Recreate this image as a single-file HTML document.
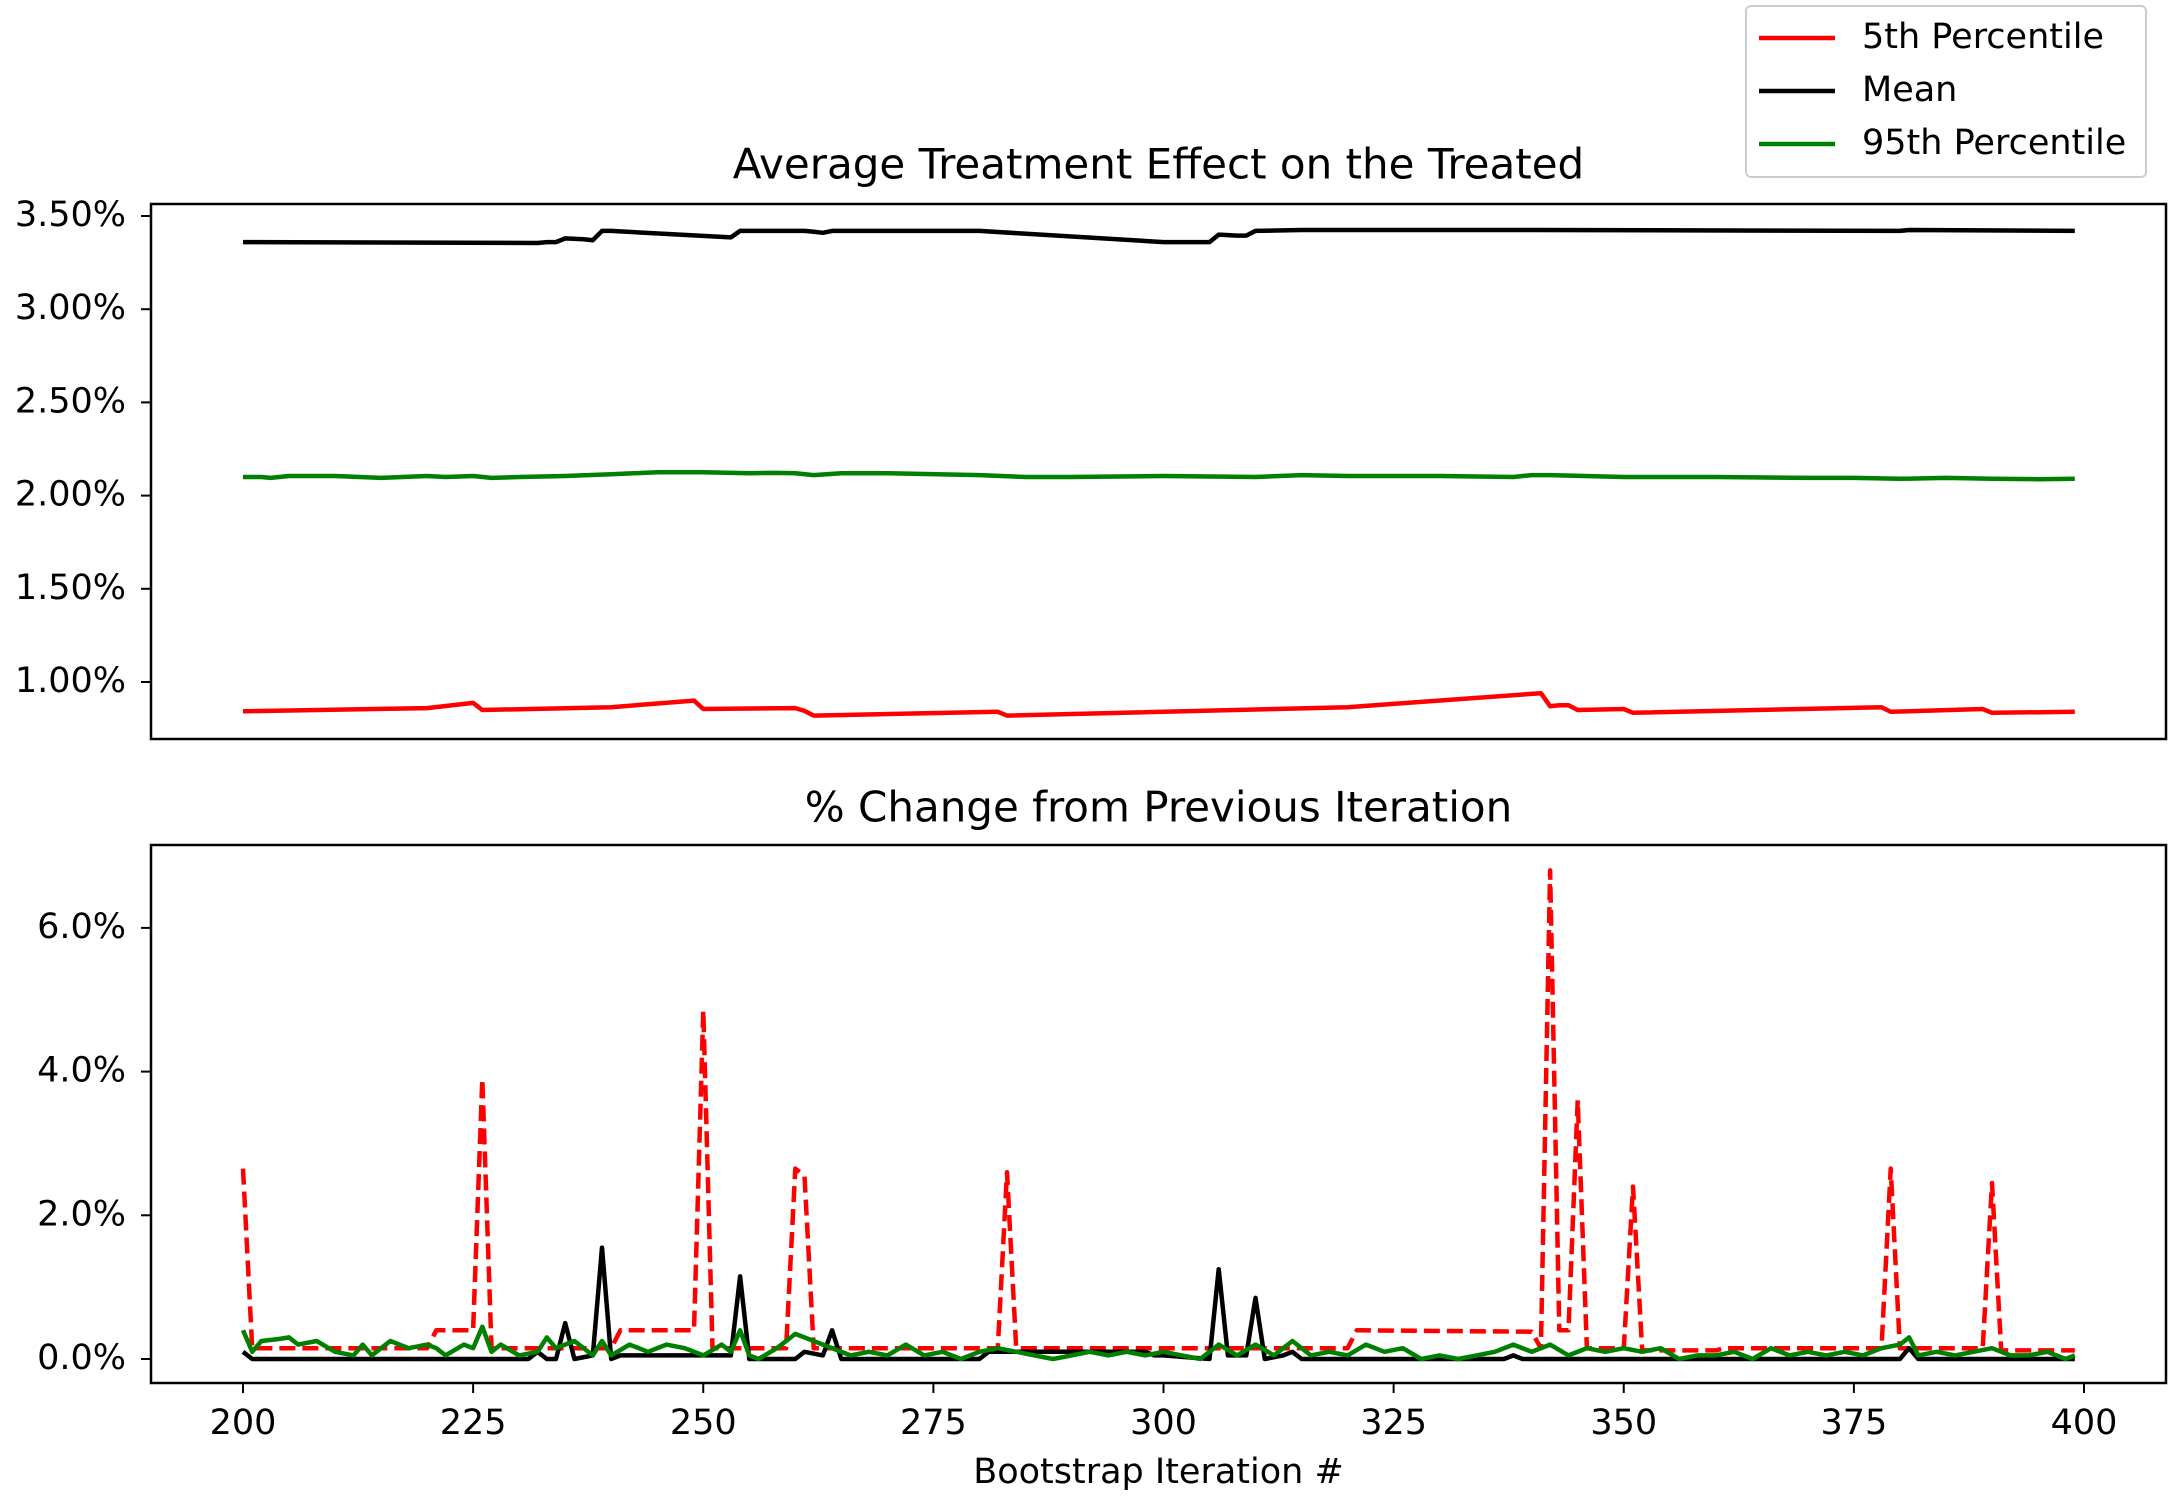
<!DOCTYPE html>
<html><head><meta charset="utf-8"><style>
html,body{margin:0;padding:0;background:#fff;}
svg text{font-family:"DejaVu Sans","Liberation Sans",sans-serif;fill:#000;}
</style></head><body>
<svg id="chart" width="2180" height="1496" viewBox="0 0 2180 1496" xmlns="http://www.w3.org/2000/svg">
<rect x="0" y="0" width="2180" height="1496" fill="#fff"/>
<g id="topPanel"></g>
<g id="botPanel"></g>
<g id="legend"></g>
</svg>
<script>
// ---- top panel data (iteration breakpoints, value in %) ----
const meanX = [200,232,233,234,235,237,238,239,240,253,254,261,262,263,264,280,300,305,306,308,309,310,315,340,380,381,399];
const meanY = [3.36,3.355,3.36,3.36,3.38,3.375,3.37,3.42,3.42,3.385,3.42,3.42,3.415,3.41,3.42,3.42,3.36,3.36,3.40,3.395,3.395,3.42,3.425,3.425,3.42,3.425,3.42];
const p5X = [200,220,225,226,240,249,250,260,261,262,282,283,320,341,342,343,344,345,350,351,378,379,389,390,399];
const p5Y = [0.843,0.86,0.888,0.85,0.865,0.90,0.855,0.86,0.845,0.82,0.84,0.82,0.865,0.94,0.87,0.875,0.875,0.85,0.855,0.835,0.865,0.84,0.855,0.835,0.84];
const p95X = [200,202,203,205,208,210,215,220,222,225,227,230,235,240,245,250,255,258,260,262,265,270,280,285,290,300,310,315,320,330,338,340,342,350,360,370,375,380,385,390,395,399];
const p95Y = [2.10,2.10,2.095,2.105,2.105,2.105,2.095,2.105,2.10,2.105,2.095,2.10,2.105,2.115,2.125,2.125,2.12,2.122,2.12,2.11,2.12,2.12,2.11,2.10,2.10,2.105,2.10,2.11,2.105,2.105,2.10,2.11,2.11,2.10,2.10,2.095,2.095,2.09,2.095,2.09,2.088,2.09];
const topTicks = [1.0,1.5,2.0,2.5,3.0,3.5];
const topTickLabels = ["1.00%","1.50%","2.00%","2.50%","3.00%","3.50%"];
// ---- bottom panel data ----
const c5X = [200,201,220,221,225,226,227,240,241,249,250,251,259,260,261,262,282,283,284,320,321,340,341,342,343,344,345,346,350,351,352,360,361,378,379,380,389,390,391,399];
const c5Y = [2.65,0.15,0.15,0.4,0.4,3.9,0.15,0.15,0.4,0.4,4.85,0.15,0.15,2.65,2.55,0.15,0.15,2.6,0.15,0.15,0.4,0.38,0.15,6.8,0.4,0.4,3.6,0.15,0.15,2.4,0.12,0.12,0.15,0.15,2.65,0.15,0.15,2.45,0.12,0.12];
const cmX = [200,201,231,232,233,234,235,236,238,239,240,241,253,254,255,260,261,263,264,265,280,281,298,299,300,305,306,307,309,310,311,313,314,315,337,338,339,380,381,382,399];
const cmY = [0.1,0.0,0.0,0.1,0.0,0.0,0.5,0.0,0.05,1.55,0.0,0.05,0.05,1.15,0.0,0.0,0.1,0.05,0.4,0.0,0.0,0.1,0.1,0.05,0.05,0.0,1.25,0.05,0.05,0.85,0.0,0.05,0.1,0.0,0.0,0.05,0.0,0.0,0.15,0.0,0.0];
const c95X = [200,201,202,204,205,206,208,210,212,213,214,216,218,220,221,222,224,225,226,227,228,230,232,233,234,236,238,239,240,242,244,246,248,250,252,253,254,255,256,258,260,262,264,266,268,270,272,274,276,278,280,282,284,286,288,290,292,294,296,298,300,302,304,306,308,310,312,314,316,318,320,322,324,326,328,330,332,334,336,338,340,342,344,346,348,350,352,354,356,358,360,362,364,366,368,370,372,374,376,378,380,381,382,384,386,388,390,392,394,396,398,399];
const c95Y = [0.4,0.1,0.25,0.28,0.3,0.2,0.25,0.1,0.05,0.2,0.05,0.25,0.15,0.2,0.15,0.05,0.2,0.15,0.45,0.1,0.2,0.05,0.1,0.3,0.15,0.25,0.05,0.25,0.05,0.2,0.1,0.2,0.15,0.05,0.2,0.1,0.4,0.05,0.0,0.15,0.35,0.25,0.15,0.05,0.1,0.05,0.2,0.05,0.1,0.0,0.1,0.15,0.1,0.05,0.0,0.05,0.1,0.05,0.1,0.05,0.1,0.05,0.0,0.2,0.05,0.2,0.05,0.25,0.05,0.1,0.05,0.2,0.1,0.15,0.0,0.05,0.0,0.05,0.1,0.2,0.1,0.2,0.05,0.15,0.1,0.15,0.1,0.15,0.0,0.05,0.05,0.1,0.0,0.15,0.05,0.1,0.05,0.1,0.05,0.15,0.2,0.3,0.05,0.1,0.05,0.1,0.15,0.05,0.05,0.1,0.0,0.05];
const botTicks = [0,2,4,6];
const botTickLabels = ["0.0%","2.0%","4.0%","6.0%"];
const xTicks = [200,225,250,275,300,325,350,375,400];
const legendLabels = ["5th Percentile","Mean","95th Percentile"];
const legendColors = ["#ff0000","#000000","#008000"];

const NS="http://www.w3.org/2000/svg";
function mk(tag,attrs,parent){const e=document.createElementNS(NS,tag);for(const k in attrs)e.setAttribute(k,attrs[k]);parent.appendChild(e);return e;}
const L=151,R=2166;
const xS=v=>243+(v-200)*(2084-243)/200;
const yTop=v=>216+(3.5-v)*186.4;
const yBot=v=>1359-v*71.85;

function panel(g,t0,b0,title,titleY,yScale,ticks,labels,showX){
  const fr=mk('rect',{x:L,y:t0,width:R-L,height:b0-t0,fill:'none',stroke:'#000','stroke-width':2.5},g);
  
  
  const t=mk('text',{x:(L+R)/2,y:titleY,'font-size':42,'text-anchor':'middle','dominant-baseline':'middle'},g);
  t.textContent=title;
  
  
  ticks.forEach((v,i)=>{
    const y=yScale(v);
    mk('line',{x1:L-10,x2:L,y1:y,y2:y,stroke:'#000','stroke-width':2},g);
    const tx=mk('text',{x:126,y:y,'font-size':35,'text-anchor':'end','dominant-baseline':'middle'},g);
    tx.textContent=labels[i];
    
    
  });
  if(showX){
    xTicks.forEach(v=>{
      const x=xS(v);
      mk('line',{x1:x,x2:x,y1:b0,y2:b0+10,stroke:'#000','stroke-width':2},g);
      const tx=mk('text',{x:x,y:1424,'font-size':35,'text-anchor':'middle','dominant-baseline':'middle'},g);
      tx.textContent=v;
      
      
    });
    const xl=mk('text',{x:(L+R)/2,y:1473,'font-size':35,'text-anchor':'middle','dominant-baseline':'middle'},g);
    xl.textContent='Bootstrap Iteration #';
    
    
  }
}
function series(g,xs,ys,yScale,color,dash,name){
  const pts=xs.map((x,i)=>xS(x).toFixed(1)+','+yScale(ys[i]).toFixed(1)).join(' ');
  const p=mk('polyline',{points:pts,fill:'none',stroke:color,'stroke-width':4.5,'stroke-linejoin':'round'},g);
  if(dash)p.setAttribute('stroke-dasharray','16 7');
  
  
}
const topG=document.getElementById('topPanel'), botG=document.getElementById('botPanel');
panel(topG,204,739,'Average Treatment Effect on the Treated',167,yTop,topTicks,topTickLabels,false);
series(topG,p5X,p5Y,yTop,'#ff0000',false,'line-5th-percentile');
series(topG,meanX,meanY,yTop,'#000000',false,'line-mean');
series(topG,p95X,p95Y,yTop,'#008000',false,'line-95th-percentile');
panel(botG,845,1383,'% Change from Previous Iteration',810,yBot,botTicks,botTickLabels,true);
series(botG,c5X,c5Y,yBot,'#ff0000',true,'change-5th-percentile');
series(botG,cmX,cmY,yBot,'#000000',false,'change-mean');
series(botG,c95X,c95Y,yBot,'#008000',false,'change-95th-percentile');

const lg=document.getElementById('legend');
const box=mk('rect',{x:1746,y:6,width:400,height:171,rx:5,fill:'#fff',stroke:'#ccc','stroke-width':2},lg);


legendLabels.forEach((lab,i)=>{
  const y=38+i*53;
  const ln=mk('line',{x1:1759,x2:1835,y1:y,y2:y,stroke:legendColors[i],'stroke-width':4.5},lg);
  
  
  const t=mk('text',{x:1862,y:y,'font-size':35,'dominant-baseline':'middle'},lg);
  t.textContent=lab;
  
  
});
</script>
</body></html>
